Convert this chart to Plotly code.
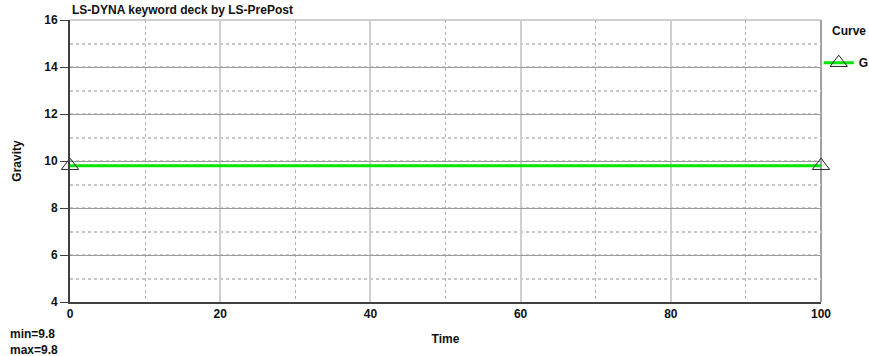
import plotly.graph_objects as go

time = [0, 100]
gravity = [9.8, 9.8]
x_ticks = [0, 20, 40, 60, 80, 100]
y_ticks = [4, 6, 8, 10, 12, 14, 16]

FONT = "Liberation Sans, Arial, sans-serif"

fig = go.Figure()
fig.add_trace(go.Scatter(
    x=time, y=gravity, mode="lines+markers", name="G",
    line=dict(color="#00e600", width=3),
    marker=dict(symbol="triangle-up-open", size=15, color="#222222", line=dict(width=1)),
    cliponaxis=False,
))

fig.update_xaxes(
    range=[0, 100], tickvals=x_ticks, ticktext=[str(v) for v in x_ticks],
    showgrid=True, gridcolor="#cfcfcf", gridwidth=2,
    minor=dict(dtick=10, tick0=0, showgrid=True, gridcolor="#b0b0b0", griddash="3px,3px", gridwidth=1),
    showline=True, linecolor="#404040", linewidth=2, zeroline=False,
    ticks="", tickfont=dict(family=FONT, size=12, color="#111111", weight="bold"),
    title=dict(text="Time", font=dict(family=FONT, size=12, color="#111111", weight="bold"), standoff=14),
)
fig.update_yaxes(
    range=[4, 16], tickvals=y_ticks, ticktext=[str(v) for v in y_ticks],
    showgrid=True, gridcolor="#9a9a9a", gridwidth=1,
    minor=dict(dtick=1, tick0=0, showgrid=True, gridcolor="#c8c8c8", griddash="3px,3px", gridwidth=2),
    showline=True, linecolor="#404040", linewidth=2, zeroline=False,
    ticks="outside", ticklen=8, tickcolor="#404040", tickwidth=1,
    tickfont=dict(family=FONT, size=12, color="#111111", weight="bold"),
    title=dict(text="Gravity", font=dict(family=FONT, size=12, color="#111111", weight="bold"), standoff=20),
)

# right/top border
fig.add_shape(type="line", xref="paper", yref="paper", x0=1, x1=1, y0=0, y1=1,
              line=dict(color="#a0a0a0", width=2), layer="below")
fig.add_shape(type="line", xref="paper", yref="paper", x0=0, x1=1, y0=1, y1=1,
              line=dict(color="#a0a0a0", width=1), layer="below")

fig.add_annotation(text="LS-DYNA keyword deck by LS-PrePost", xref="paper", yref="paper",
                   x=0, y=1, xanchor="left", yanchor="bottom", yshift=1, showarrow=False,
                   font=dict(family=FONT, size=12, color="#111111", weight="bold"))
fig.add_annotation(text="min=9.8<br>max=9.8", xref="paper", yref="paper",
                   x=-0.0826, y=0, xanchor="left", yanchor="top", yshift=-23, showarrow=False,
                   align="left", font=dict(family=FONT, size=12, color="#111111", weight="bold"))
fig.add_annotation(text="Curve", xref="paper", yref="paper",
                   x=1, y=1, xanchor="left", yanchor="top", xshift=9, yshift=-2, showarrow=False,
                   font=dict(family=FONT, size=12, color="#111111", weight="bold"))

fig.update_layout(
    width=869, height=356,
    margin=dict(l=70, r=48, t=20, b=54, autoexpand=False),
    paper_bgcolor="white", plot_bgcolor="white",
    showlegend=True,
    legend=dict(
        x=0.997, y=0.90, xanchor="left", yanchor="top",
        font=dict(family=FONT, size=12, color="#111111", weight="bold"),
        itemwidth=30, bgcolor="rgba(0,0,0,0)",
    ),
)

fig.write_html("out.html")
